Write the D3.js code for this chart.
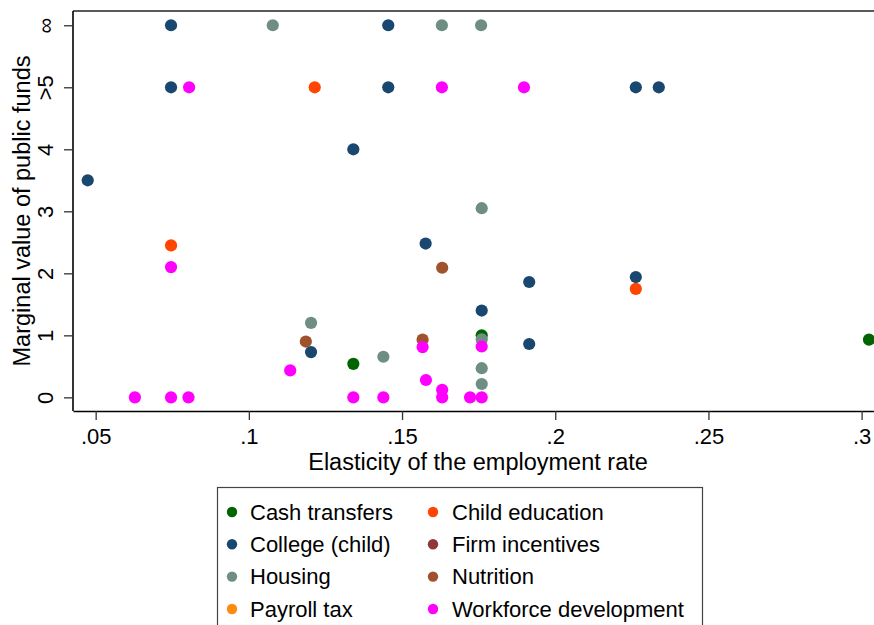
<!DOCTYPE html>
<html>
<head>
<meta charset="utf-8">
<script src="https://cdn.jsdelivr.net/npm/d3@7"></script>
<style>
  html, body { margin: 0; padding: 0; background: #fff; }
  svg { display: block; font-family: "Liberation Sans", Arial, sans-serif; }
</style>
</head>
<body>
<svg id="chart" width="874" height="625"></svg>
<script>
// Program categories, in legend order
const categories = ["Cash transfers", "Child education", "College (child)", "Firm incentives",
                    "Housing", "Nutrition", "Payroll tax", "Workforce development"];
const colors = ["#006400", "#ff4500", "#1a476f", "#90353b",
                "#6e8e84", "#a0522d", "#ff8a12", "#ff00ff"];

// Elasticity (x) and MVPF (y) per category; y = 5 means ">5", y = 6 means infinite
const cashX = [0.1341, 0.1760, 0.3024];
const cashY = [0.54, 1.00, 0.93];
const childEdX = [0.0746, 0.1215, 0.2263];
const childEdY = [2.45, 5, 1.75];
const collegeX = [0.0474, 0.0746, 0.0746, 0.1203, 0.1341, 0.1455, 0.1455, 0.1577, 0.1760, 0.1915, 0.1915, 0.2263, 0.2338, 0.2263];
const collegeY = [3.50, 6, 5, 0.73, 4.00, 6, 5, 2.48, 1.40, 1.86, 0.86, 5, 5, 1.94];
const firmX = [];
const firmY = [];
const housingX = [0.1078, 0.1630, 0.1758, 0.1203, 0.1439, 0.1760, 0.1760, 0.1760, 0.1760];
const housingY = [6, 6, 6, 1.20, 0.655, 3.05, 0.935, 0.47, 0.215];
const nutritionX = [0.1186, 0.1567, 0.1631];
const nutritionY = [0.90, 0.93, 2.09];
const payrollX = [];
const payrollY = [];
const workforceX = [0.0628, 0.0746, 0.0803, 0.0746, 0.0805, 0.1135, 0.1341, 0.1439, 0.1567, 0.1578, 0.1631, 0.1631, 0.1722, 0.1760, 0.1760, 0.1630, 0.1898];
const workforceY = [0, 0, 0, 2.10, 5, 0.435, 0, 0, 0.81, 0.28, 0.12, 0, 0, 0, 0.82, 5, 5];

const xTicks = [0.05, 0.1, 0.15, 0.2, 0.25, 0.3];
const xTickLabels = [".05", ".1", ".15", ".2", ".25", ".3"];
const yTicks = [0, 1, 2, 3, 4, 5, 6];
const yTickLabels = ["0", "1", "2", "3", "4", ">5", "\u221E"];

const seriesX = [cashX, childEdX, collegeX, firmX, housingX, nutritionX, payrollX, workforceX];
const seriesY = [cashY, childEdY, collegeY, firmY, housingY, nutritionY, payrollY, workforceY];

// Layer order for the markers (later ones sit on top)
const drawOrder = [0, 4, 5, 3, 6, 2, 1, 7];

const svg = d3.select("#chart");
const plotLeft = 73, plotTop = 11, plotRight = 880, plotBottom = 411;

const x = d3.scaleLinear().domain([0.0426, 0.306]).range([plotLeft, plotRight]);
const y = d3.scaleLinear().domain([-0.22, 6.23]).range([plotBottom, plotTop]);

// Top frame line
svg.append("line")
  .attr("x1", plotLeft).attr("x2", plotRight).attr("y1", plotTop).attr("y2", plotTop)
  .attr("stroke", "#5a5a5a").attr("stroke-width", 2);

// X axis
const xAxis = svg.append("g").attr("transform", `translate(0,${plotBottom})`)
  .call(d3.axisBottom(x).tickValues(xTicks).tickFormat((d, i) => xTickLabels[i])
        .tickSize(9).tickSizeOuter(0).tickPadding(8));
xAxis.select(".domain").attr("stroke", "#000").attr("stroke-width", 1.6);
xAxis.selectAll(".tick line").attr("stroke", "#333").attr("stroke-width", 1.3);
xAxis.selectAll(".tick text").attr("font-size", 22).attr("fill", "#000")
  .attr("font-family", "Liberation Sans, Arial, sans-serif");

// Y axis with rotated labels
const yAxis = svg.append("g").attr("transform", `translate(${plotLeft},0)`)
  .call(d3.axisLeft(y).tickValues(yTicks).tickFormat((d, i) => yTickLabels[i])
        .tickSize(9).tickSizeOuter(0));
yAxis.select(".domain").attr("stroke", "#000").attr("stroke-width", 1.6)
  .attr("d", `M0,${plotBottom}V${plotTop}`);
yAxis.selectAll(".tick line").attr("stroke", "#333").attr("stroke-width", 1.3);
yAxis.selectAll(".tick text")
  .attr("font-size", 22).attr("fill", "#000")
  .attr("font-family", "Liberation Sans, Arial, sans-serif")
  .attr("x", null).attr("dy", null)
  .attr("text-anchor", "middle")
  .attr("transform", "translate(-20,0) rotate(-90)");

// Markers
svg.append("clipPath").attr("id", "plotclip")
  .append("rect").attr("x", 0).attr("y", 0).attr("width", 874).attr("height", plotBottom);
const pts = svg.append("g").attr("clip-path", "url(#plotclip)");
drawOrder.forEach(k => {
  const data = seriesX[k].map((v, i) => ({ x: v, y: seriesY[k][i] }));
  pts.selectAll(null).data(data).enter().append("circle")
    .attr("cx", d => x(d.x)).attr("cy", d => y(d.y))
    .attr("r", 6.1).attr("fill", colors[k]);
});

// Axis titles
svg.append("text")
  .attr("x", 478).attr("y", 470)
  .attr("text-anchor", "middle").attr("font-size", 23.5).attr("fill", "#000")
  .text("Elasticity of the employment rate");
svg.append("text")
  .attr("transform", "translate(30,211) rotate(-90)")
  .attr("text-anchor", "middle").attr("font-size", 23.5).attr("fill", "#000")
  .text("Marginal value of public funds");

// Legend
const legend = svg.append("g");
legend.append("rect")
  .attr("x", 217.5).attr("y", 487.5).attr("width", 485).attr("height", 160)
  .attr("fill", "#fff").attr("stroke", "#444").attr("stroke-width", 1.2);
const rowY = [512, 544.3, 576.6, 609];
const colMarker = [232, 433];
const colText = [250, 452];
categories.forEach((name, i) => {
  const row = Math.floor(i / 2), col = i % 2;
  legend.append("circle")
    .attr("cx", colMarker[col]).attr("cy", rowY[row]).attr("r", 5.2)
    .attr("fill", colors[i]);
  legend.append("text")
    .attr("x", colText[col]).attr("y", rowY[row] + 7.8)
    .attr("font-size", 22).attr("fill", "#000")
    .text(name);
});
</script>
</body>
</html>
